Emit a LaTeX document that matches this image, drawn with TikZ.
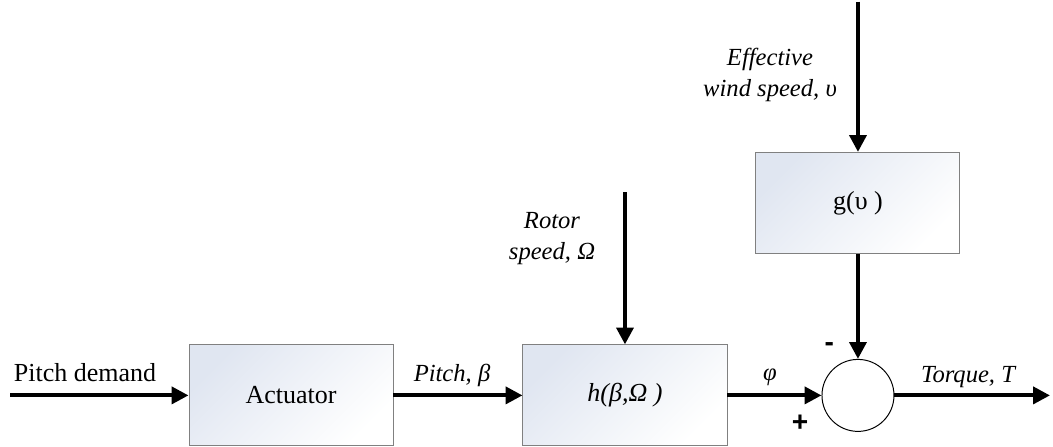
\documentclass[tikz,border=0pt]{standalone}
\usepackage{fontspec}
\setmainfont{Liberation Serif}
\newfontfamily\signfont{Liberation Sans}
\usetikzlibrary{arrows.meta,positioning}
\definecolor{boxfill}{RGB}{224,230,241}
\definecolor{boxline}{RGB}{128,128,128}

\begin{document}
\begin{tikzpicture}[font=\fontsize{18.5}{22}\selectfont,
block/.style={draw=boxline,line width=0.7pt,top color=boxfill,bottom color=white,shading angle=45,minimum width=5.1cm,minimum height=2.525cm,inner sep=0pt},
sumnode/.style={circle,draw,line width=0.7pt,minimum size=1.8cm,inner sep=0pt},
signal/.style={line width=2.8pt,-{Triangle[length=0.42cm,width=0.42cm]}},
lbl/.style={font=\fontsize{17.5}{22}\selectfont\itshape,align=center,inner sep=0pt},
sign/.style={font=\signfont\bfseries\fontsize{20}{22}\selectfont,inner sep=0pt}
]
\useasboundingbox (0,0) rectangle (26.325,11.175);
\node[block] (act) at (7.275,1.29) {Actuator};
\node[block,right=3.225cm of act] (hfun) {\itshape h(β,Ω )};
\node[sumnode,right=2.35cm of hfun] (sum) {};
\node[block,above=2.625cm of sum] (gfun) {g(υ )};
\coordinate (in) at (0.25,1.29);
\coordinate (out) at (26.25,1.29);
\coordinate[above=3.8cm of hfun.north] (rotor);
\coordinate[above=3.76cm of gfun.north] (wind);
% signals
\draw[signal] (in) -- (act);
\draw[signal] (act) -- (hfun);
\draw[signal] (rotor) -- (hfun);
\draw[signal] (hfun) -- (sum);
\draw[signal] (wind) -- (gfun);
\draw[signal] (gfun) -- (sum);
\draw[signal] (sum) -- (out);
% labels
\node (pd) at (2.125,1.85) {Pitch demand};
\node[lbl] (pitch) at (11.3,1.8) {Pitch, β};
\node[lbl] (rs) at (13.8,5.2) {Rotor\\speed, Ω};
\node[lbl] (phi) at (19.25,1.75) {φ};
\node[lbl] (tq) at (24.2,1.75) {Torque, T};
\node[lbl] (ews) at (19.25,9.3) {Effective\\wind speed, υ};
\node[sign] (minus) at (20.73,2.5) {-};
\node[sign] (plus) at (20.0,0.6) {+};
\end{tikzpicture}
\end{document}
